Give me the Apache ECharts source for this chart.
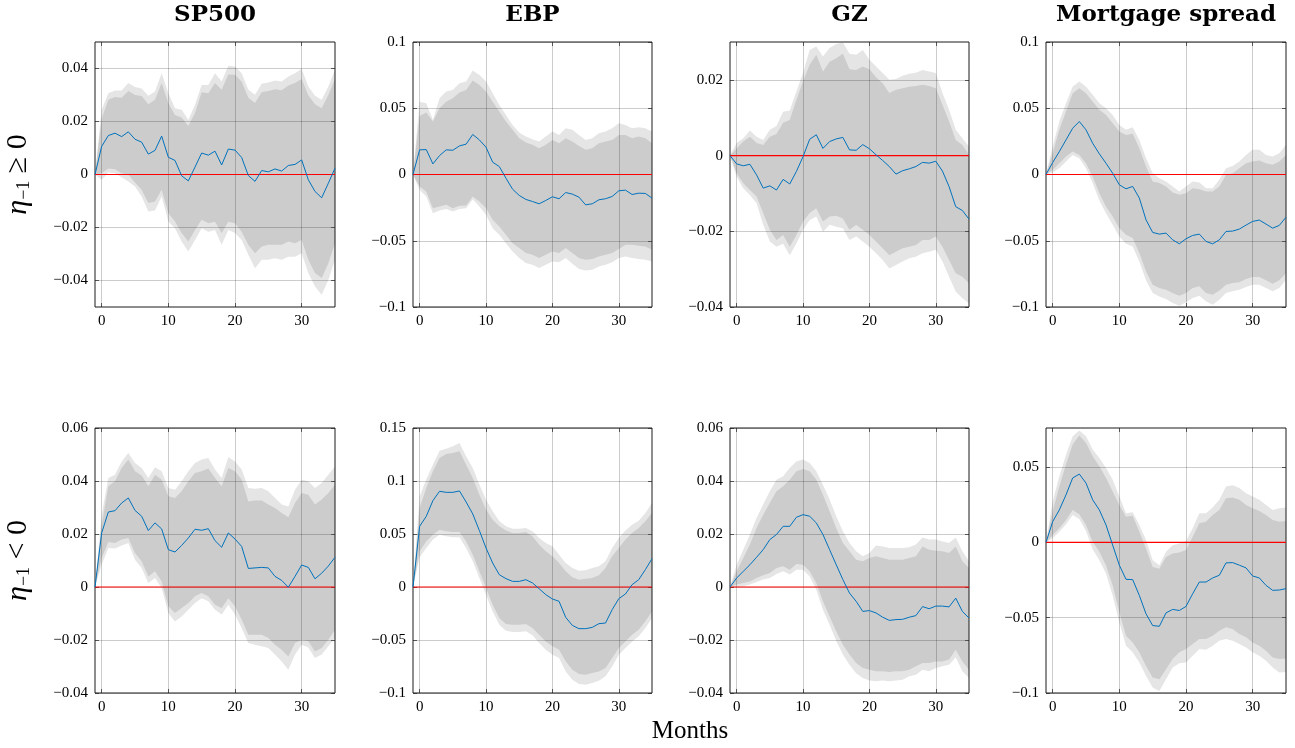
<!DOCTYPE html>
<html><head><meta charset="utf-8">
<script src="https://cdn.jsdelivr.net/npm/echarts@6/dist/echarts.min.js"></script>
<style>html,body{margin:0;padding:0;background:#fff}#c{width:1295px;height:748px}</style>
</head><body><div id="c"></div>
<script>
// ---- categories ----
const months = [-1,0,1,2,3,4,5,6,7,8,9,10,11,12,13,14,15,16,17,18,19,20,21,22,23,24,25,26,27,28,29,30,31,32,33,34,35];
const titles = ['SP500','EBP','GZ','Mortgage spread'];
const xLabel = 'Months';
const zeroLevel = 0;   // red reference line

// ---- y tick values ----
const ticksSpPos  = [-0.04,-0.02,0,0.02,0.04];
const ticksEbpPos = [-0.1,-0.05,0,0.05,0.1];
const ticksGzPos  = [-0.04,-0.02,0,0.02];
const ticksMtgPos = [-0.1,-0.05,0,0.05,0.1];
const ticksSpNeg  = [-0.04,-0.02,0,0.02,0.04,0.06];
const ticksEbpNeg = [-0.1,-0.05,0,0.05,0.1,0.15];
const ticksGzNeg  = [-0.04,-0.02,0,0.02,0.04,0.06];
const ticksMtgNeg = [-0.1,-0.05,0,0.05];

// ---- SP500, eta >= 0 ----
const spPosLine = [0,0.0106,0.0147,0.0156,0.0143,0.0161,0.0133,0.0122,0.0077,0.0091,0.0145,0.0065,0.0053,-0.0005,-0.0024,0.0028,0.0081,0.0073,0.0088,0.0036,0.0096,0.0092,0.0064,-0.0004,-0.0026,0.0015,0.0010,0.0021,0.0013,0.0034,0.0038,0.0055,-0.0020,-0.0064,-0.0088,-0.0033,0.0024];
const spPosHi90 = [0,0.0244,0.0307,0.0317,0.0317,0.0345,0.0330,0.0325,0.0297,0.0313,0.0382,0.0307,0.0250,0.0244,0.0206,0.0263,0.0338,0.0338,0.0382,0.0351,0.0410,0.0408,0.0382,0.0320,0.0301,0.0342,0.0347,0.0355,0.0351,0.0370,0.0382,0.0399,0.0332,0.0297,0.0282,0.0332,0.0395];
const spPosHi68 = [0,0.0210,0.0282,0.0292,0.0290,0.0315,0.0300,0.0296,0.0265,0.0282,0.0345,0.0270,0.0225,0.0215,0.0183,0.0232,0.0310,0.0307,0.0345,0.0320,0.0377,0.0376,0.0350,0.0290,0.0270,0.0310,0.0315,0.0322,0.0318,0.0336,0.0345,0.0360,0.0298,0.0265,0.0250,0.0300,0.0360];
const spPosLo68 = [0,0.0005,0.0023,0.0020,0.0005,0,-0.0030,-0.0058,-0.0108,-0.0102,-0.0058,-0.0146,-0.0177,-0.0221,-0.0253,-0.0209,-0.0171,-0.0184,-0.0178,-0.0221,-0.0178,-0.0184,-0.0216,-0.0265,-0.0297,-0.0272,-0.0265,-0.0265,-0.0265,-0.0253,-0.0259,-0.0247,-0.0322,-0.0372,-0.0391,-0.0335,-0.0259];
const spPosLo90 = [0,-0.0020,0.0008,0.0005,-0.0010,-0.0026,-0.0045,-0.0083,-0.0140,-0.0136,-0.0083,-0.0177,-0.0203,-0.0253,-0.0291,-0.0247,-0.0203,-0.0216,-0.0209,-0.0265,-0.0209,-0.0221,-0.0247,-0.0303,-0.0354,-0.0322,-0.0322,-0.0316,-0.0322,-0.0310,-0.0310,-0.0297,-0.0372,-0.0423,-0.0454,-0.0398,-0.0322];

// ---- EBP, eta >= 0 ----
const ebpPosLine = [0,0.0186,0.0188,0.0080,0.0143,0.0186,0.0183,0.0216,0.0229,0.0302,0.0261,0.0206,0.0093,0.0060,-0.0028,-0.0111,-0.0158,-0.0188,-0.0204,-0.0221,-0.0196,-0.0168,-0.0183,-0.0136,-0.0148,-0.0171,-0.0229,-0.0221,-0.0191,-0.0183,-0.0166,-0.0123,-0.0118,-0.0151,-0.0141,-0.0143,-0.0178];
const ebpPosHi90 = [0,0.0550,0.0538,0.0412,0.0575,0.0626,0.0638,0.0689,0.0701,0.0784,0.0751,0.0701,0.0613,0.0525,0.0450,0.0374,0.0317,0.0286,0.0266,0.0249,0.0286,0.0324,0.0299,0.0349,0.0337,0.0299,0.0261,0.0274,0.0312,0.0324,0.0349,0.0387,0.0374,0.0349,0.0357,0.0349,0.0324];
const ebpPosHi68 = [0,0.0442,0.0467,0.0400,0.0500,0.0550,0.0575,0.0618,0.0638,0.0709,0.0676,0.0626,0.0550,0.0475,0.0400,0.0337,0.0274,0.0241,0.0224,0.0199,0.0224,0.0261,0.0236,0.0274,0.0249,0.0216,0.0186,0.0199,0.0236,0.0249,0.0261,0.0299,0.0299,0.0274,0.0286,0.0274,0.0236];
const ebpPosLo68 = [0,-0.0090,-0.0128,-0.0254,-0.0241,-0.0229,-0.0254,-0.0236,-0.0234,-0.0166,-0.0204,-0.0254,-0.0342,-0.0392,-0.0455,-0.0518,-0.0555,-0.0593,-0.0606,-0.0631,-0.0606,-0.0581,-0.0593,-0.0555,-0.0593,-0.0631,-0.0643,-0.0638,-0.0618,-0.0606,-0.0593,-0.0563,-0.0530,-0.0530,-0.0538,-0.0543,-0.0568];
const ebpPosLo90 = [0,-0.0116,-0.0166,-0.0292,-0.0271,-0.0261,-0.0279,-0.0261,-0.0254,-0.0186,-0.0241,-0.0304,-0.0405,-0.0455,-0.0518,-0.0581,-0.0631,-0.0668,-0.0681,-0.0706,-0.0681,-0.0656,-0.0663,-0.0631,-0.0673,-0.0714,-0.0724,-0.0719,-0.0694,-0.0681,-0.0663,-0.0631,-0.0618,-0.0631,-0.0638,-0.0643,-0.0656];

// ---- GZ, eta >= 0 ----
const gzPosLine = [0,-0.0022,-0.0027,-0.0023,-0.0051,-0.0086,-0.0080,-0.0091,-0.0063,-0.0075,-0.0042,-0.0003,0.0043,0.0055,0.0019,0.0037,0.0044,0.0048,0.0015,0.0014,0.0029,0.0018,0.0002,-0.0013,-0.0029,-0.0049,-0.0040,-0.0035,-0.0029,-0.0018,-0.0020,-0.0015,-0.0041,-0.0082,-0.0135,-0.0145,-0.0168];
const gzPosHi90 = [0,0.0033,0.0046,0.0066,0.0050,0.0041,0.0068,0.0078,0.0116,0.0119,0.0169,0.0218,0.0279,0.0288,0.0262,0.0284,0.0295,0.0299,0.0269,0.0266,0.0279,0.0253,0.0235,0.0218,0.0200,0.0202,0.0211,0.0216,0.0219,0.0226,0.0222,0.0218,0.0165,0.0121,0.0068,0.0046,0.0024];
const gzPosHi68 = [0,0.0019,0.0037,0.0050,0.0033,0.0028,0.0050,0.0057,0.0087,0.0094,0.0147,0.0196,0.0240,0.0266,0.0222,0.0248,0.0257,0.0269,0.0228,0.0226,0.0235,0.0228,0.0207,0.0191,0.0165,0.0174,0.0178,0.0182,0.0184,0.0187,0.0184,0.0178,0.0134,0.0090,0.0041,0.0028,0.0002];
const gzPosLo68 = [0,-0.0047,-0.0073,-0.0091,-0.0108,-0.0152,-0.0196,-0.0223,-0.0210,-0.0241,-0.0210,-0.0174,-0.0152,-0.0139,-0.0174,-0.0161,-0.0159,-0.0166,-0.0196,-0.0183,-0.0196,-0.0210,-0.0227,-0.0245,-0.0263,-0.0254,-0.0245,-0.0241,-0.0236,-0.0223,-0.0223,-0.0214,-0.0241,-0.0276,-0.0311,-0.0320,-0.0337];
const gzPosLo90 = [0,-0.0056,-0.0086,-0.0104,-0.0126,-0.0183,-0.0227,-0.0241,-0.0233,-0.0263,-0.0232,-0.0196,-0.0170,-0.0161,-0.0201,-0.0183,-0.0188,-0.0192,-0.0223,-0.0214,-0.0227,-0.0241,-0.0258,-0.0276,-0.0298,-0.0289,-0.0280,-0.0271,-0.0267,-0.0258,-0.0254,-0.0249,-0.0280,-0.0320,-0.0359,-0.0377,-0.0390];

// ---- Mortgage spread, eta >= 0 ----
const mtgPosLine = [0,0.0090,0.0173,0.0261,0.0349,0.0400,0.0337,0.0236,0.0156,0.0085,0.0010,-0.0078,-0.0108,-0.0090,-0.0178,-0.0342,-0.0437,-0.0450,-0.0442,-0.0493,-0.0523,-0.0485,-0.0460,-0.0450,-0.0505,-0.0523,-0.0493,-0.0430,-0.0427,-0.0412,-0.0382,-0.0354,-0.0344,-0.0374,-0.0405,-0.0384,-0.0322];
const mtgPosHi90 = [0,0.0211,0.0400,0.0538,0.0663,0.0701,0.0663,0.0601,0.0538,0.0500,0.0450,0.0374,0.0337,0.0357,0.0261,0.0123,0.0010,-0.0028,-0.0053,-0.0090,-0.0128,-0.0090,-0.0053,-0.0060,-0.0103,-0.0103,-0.0040,0.0048,0.0065,0.0098,0.0148,0.0186,0.0186,0.0148,0.0136,0.0161,0.0224];
const mtgPosHi68 = [0,0.0161,0.0337,0.0475,0.0613,0.0651,0.0613,0.0550,0.0488,0.0450,0.0387,0.0324,0.0299,0.0307,0.0199,0.0060,-0.0053,-0.0065,-0.0090,-0.0136,-0.0153,-0.0141,-0.0103,-0.0111,-0.0128,-0.0128,-0.0090,-0.0003,0.0010,0.0048,0.0085,0.0098,0.0106,0.0085,0.0073,0.0098,0.0148];
const mtgPosLo68 = [0,0.0035,0.0085,0.0136,0.0173,0.0148,0.0085,-0.0015,-0.0141,-0.0241,-0.0317,-0.0405,-0.0455,-0.0480,-0.0593,-0.0731,-0.0832,-0.0857,-0.0869,-0.0895,-0.0915,-0.0895,-0.0857,-0.0844,-0.0895,-0.0907,-0.0875,-0.0832,-0.0819,-0.0814,-0.0789,-0.0774,-0.0774,-0.0799,-0.0824,-0.0799,-0.0744];
const mtgPosLo90 = [0,0.0015,0.0048,0.0098,0.0148,0.0123,0.0048,-0.0065,-0.0196,-0.0292,-0.0379,-0.0467,-0.0523,-0.0543,-0.0656,-0.0799,-0.0895,-0.0920,-0.0940,-0.0970,-0.0990,-0.0965,-0.0932,-0.0915,-0.0957,-0.0983,-0.0945,-0.0895,-0.0882,-0.0869,-0.0849,-0.0832,-0.0832,-0.0857,-0.0882,-0.0857,-0.0794];

// ---- SP500, eta < 0 ----
const spNegLine = [0,0.0204,0.0283,0.0288,0.0317,0.0336,0.0289,0.0267,0.0213,0.0242,0.0219,0.0141,0.0132,0.0157,0.0185,0.0218,0.0214,0.0220,0.0175,0.0150,0.0204,0.0181,0.0153,0.0070,0.0072,0.0074,0.0072,0.0040,0.0025,-0.0001,0.0040,0.0083,0.0074,0.0031,0.0052,0.0079,0.0112];
const spNegHi90 = [0,0.0273,0.0411,0.0424,0.0474,0.0506,0.0468,0.0449,0.0411,0.0452,0.0437,0.0374,0.0367,0.0399,0.0437,0.0468,0.0481,0.0487,0.0443,0.0411,0.0491,0.0474,0.0443,0.0374,0.0371,0.0374,0.0361,0.0336,0.0311,0.0304,0.0367,0.0405,0.0399,0.0374,0.0392,0.0424,0.0455];
const spNegHi68 = [0,0.0235,0.0380,0.0399,0.0449,0.0481,0.0437,0.0421,0.0380,0.0424,0.0405,0.0342,0.0336,0.0361,0.0399,0.0430,0.0437,0.0447,0.0411,0.0380,0.0449,0.0437,0.0405,0.0323,0.0326,0.0326,0.0311,0.0298,0.0279,0.0263,0.0317,0.0355,0.0348,0.0311,0.0330,0.0355,0.0386];
const spNegLo68 = [0,0.0109,0.0170,0.0166,0.0179,0.0185,0.0128,0.0097,0.0040,0.0059,0.0021,-0.0073,-0.0098,-0.0079,-0.0060,-0.0035,-0.0023,-0.0035,-0.0067,-0.0079,-0.0042,-0.0073,-0.0123,-0.0180,-0.0180,-0.0180,-0.0192,-0.0218,-0.0237,-0.0262,-0.0211,-0.0199,-0.0205,-0.0243,-0.0230,-0.0199,-0.0161];
const spNegLo90 = [0,0.0084,0.0147,0.0145,0.0157,0.0166,0.0103,0.0072,0.0015,0.0034,-0.0004,-0.0098,-0.0130,-0.0111,-0.0086,-0.0060,-0.0042,-0.0054,-0.0086,-0.0104,-0.0067,-0.0104,-0.0155,-0.0211,-0.0218,-0.0224,-0.0230,-0.0255,-0.0281,-0.0312,-0.0255,-0.0218,-0.0228,-0.0268,-0.0255,-0.0224,-0.0192];

// ---- EBP, eta < 0 ----
const ebpNegLine = [0,0.0572,0.0667,0.0815,0.0903,0.0893,0.0893,0.0906,0.0802,0.0689,0.0532,0.0368,0.0226,0.0116,0.0079,0.0053,0.0053,0.0069,0.0038,-0.0016,-0.0072,-0.0113,-0.0135,-0.0286,-0.0362,-0.0393,-0.0393,-0.0381,-0.0346,-0.0340,-0.0214,-0.0110,-0.0066,0.0022,0.0069,0.0164,0.0267];
const ebpNegHi90 = [0,0.0855,0.1013,0.1154,0.1286,0.1305,0.1327,0.1359,0.1233,0.1123,0.0966,0.0824,0.0714,0.0620,0.0572,0.0550,0.0550,0.0557,0.0525,0.0462,0.0415,0.0384,0.0305,0.0226,0.0179,0.0154,0.0157,0.0179,0.0195,0.0242,0.0368,0.0462,0.0532,0.0588,0.0626,0.0698,0.0793];
const ebpNegHi68 = [0,0.0745,0.0934,0.1091,0.1217,0.1255,0.1264,0.1280,0.1154,0.1028,0.0871,0.0730,0.0635,0.0572,0.0532,0.0509,0.0509,0.0519,0.0478,0.0399,0.0337,0.0289,0.0226,0.0148,0.0091,0.0069,0.0079,0.0085,0.0110,0.0179,0.0289,0.0368,0.0447,0.0509,0.0557,0.0620,0.0698];
const ebpNegLo68 = [0,0.0337,0.0431,0.0494,0.0541,0.0525,0.0519,0.0519,0.0431,0.0305,0.0148,-0.0009,-0.0167,-0.0292,-0.0349,-0.0355,-0.0355,-0.0349,-0.0387,-0.0450,-0.0513,-0.0560,-0.0591,-0.0701,-0.0780,-0.0821,-0.0827,-0.0811,-0.0796,-0.0764,-0.0670,-0.0576,-0.0513,-0.0450,-0.0403,-0.0324,-0.0230];
const ebpNegLo90 = [0,0.0280,0.0368,0.0447,0.0494,0.0478,0.0469,0.0469,0.0368,0.0242,0.0085,-0.0072,-0.0230,-0.0355,-0.0412,-0.0425,-0.0425,-0.0418,-0.0456,-0.0528,-0.0591,-0.0638,-0.0670,-0.0796,-0.0874,-0.0915,-0.0921,-0.0906,-0.0884,-0.0843,-0.0749,-0.0638,-0.0576,-0.0513,-0.0465,-0.0387,-0.0292];

// ---- GZ, eta < 0 ----
const gzNegLine = [0,0.0034,0.0059,0.0084,0.0112,0.0141,0.0179,0.0198,0.0229,0.0229,0.0263,0.0273,0.0267,0.0242,0.0198,0.0141,0.0084,0.0028,-0.0023,-0.0054,-0.0092,-0.0089,-0.0098,-0.0114,-0.0126,-0.0123,-0.0122,-0.0114,-0.0108,-0.0074,-0.0082,-0.0072,-0.0072,-0.0075,-0.0042,-0.0092,-0.0117];
const gzNegHi90 = [0,0.0084,0.0141,0.0198,0.0260,0.0311,0.0361,0.0405,0.0418,0.0449,0.0474,0.0481,0.0468,0.0437,0.0386,0.0330,0.0267,0.0210,0.0166,0.0135,0.0116,0.0128,0.0157,0.0153,0.0147,0.0147,0.0147,0.0150,0.0160,0.0187,0.0179,0.0179,0.0172,0.0166,0.0187,0.0135,0.0097];
const gzNegHi68 = [0,0.0059,0.0109,0.0160,0.0223,0.0273,0.0317,0.0361,0.0380,0.0405,0.0437,0.0445,0.0437,0.0405,0.0348,0.0286,0.0223,0.0166,0.0135,0.0103,0.0097,0.0109,0.0116,0.0109,0.0103,0.0103,0.0103,0.0109,0.0116,0.0153,0.0141,0.0137,0.0135,0.0128,0.0153,0.0097,0.0072];
const gzNegLo68 = [0,0.0009,0.0015,0.0021,0.0034,0.0044,0.0053,0.0072,0.0078,0.0065,0.0087,0.0084,0.0059,0.0015,-0.0054,-0.0111,-0.0167,-0.0218,-0.0255,-0.0287,-0.0306,-0.0312,-0.0318,-0.0318,-0.0321,-0.0318,-0.0318,-0.0312,-0.0299,-0.0287,-0.0287,-0.0281,-0.0281,-0.0274,-0.0237,-0.0281,-0.0312];
const gzNegLo90 = [0,0,0.0003,0.0009,0.0019,0.0028,0.0034,0.0049,0.0059,0.0047,0.0065,0.0065,0.0040,-0.0010,-0.0086,-0.0142,-0.0203,-0.0255,-0.0293,-0.0325,-0.0343,-0.0353,-0.0356,-0.0353,-0.0356,-0.0353,-0.0350,-0.0337,-0.0331,-0.0312,-0.0318,-0.0306,-0.0299,-0.0293,-0.0265,-0.0318,-0.0343];

// ---- Mortgage spread, eta < 0 ----
const mtgNegLine = [0,0.0138,0.0216,0.0316,0.0428,0.0454,0.0394,0.0283,0.0216,0.0116,-0.0018,-0.0151,-0.0245,-0.0247,-0.0352,-0.0474,-0.0552,-0.0557,-0.0468,-0.0445,-0.0452,-0.0425,-0.0341,-0.0263,-0.0263,-0.0236,-0.0218,-0.0136,-0.0134,-0.0151,-0.0169,-0.0223,-0.0236,-0.0285,-0.0318,-0.0316,-0.0307];
const mtgNegHi90 = [0,0.0272,0.0439,0.0583,0.0706,0.0744,0.0706,0.0617,0.0561,0.0494,0.0416,0.0305,0.0194,0.0200,0.0116,0.0016,-0.0118,-0.0151,-0.0062,-0.0018,-0.0007,0.0009,0.0094,0.0194,0.0194,0.0232,0.0283,0.0372,0.0379,0.0361,0.0327,0.0305,0.0283,0.0249,0.0216,0.0227,0.0232];
const mtgNegHi68 = [0,0.0205,0.0372,0.0517,0.0650,0.0710,0.0661,0.0572,0.0506,0.0428,0.0339,0.0249,0.0171,0.0178,0.0071,-0.0040,-0.0163,-0.0174,-0.0096,-0.0073,-0.0067,-0.0051,0.0038,0.0127,0.0138,0.0183,0.0216,0.0294,0.0298,0.0283,0.0249,0.0227,0.0209,0.0183,0.0149,0.0138,0.0143];
const mtgNegLo68 = [0,0.0049,0.0094,0.0149,0.0216,0.0187,0.0116,0.0004,-0.0062,-0.0151,-0.0285,-0.0463,-0.0619,-0.0664,-0.0730,-0.0820,-0.0897,-0.0909,-0.0842,-0.0775,-0.0730,-0.0708,-0.0675,-0.0641,-0.0641,-0.0619,-0.0586,-0.0563,-0.0575,-0.0608,-0.0630,-0.0664,-0.0686,-0.0719,-0.0764,-0.0775,-0.0771];
const mtgNegLo90 = [0,0.0027,0.0071,0.0120,0.0183,0.0156,0.0076,-0.0045,-0.0118,-0.0207,-0.0352,-0.0530,-0.0686,-0.0730,-0.0797,-0.0886,-0.0964,-0.0987,-0.0909,-0.0831,-0.0802,-0.0797,-0.0753,-0.0708,-0.0713,-0.0686,-0.0653,-0.0641,-0.0653,-0.0675,-0.0697,-0.0730,-0.0753,-0.0786,-0.0831,-0.0864,-0.0860];

// ---- panels (built from the arrays above) ----
const panels = [
  {line:spPosLine,  hi90:spPosHi90,  hi68:spPosHi68,  lo68:spPosLo68,  lo90:spPosLo90,  ymin:-0.05, ymax:0.05,  ticks:ticksSpPos},
  {line:ebpPosLine, hi90:ebpPosHi90, hi68:ebpPosHi68, lo68:ebpPosLo68, lo90:ebpPosLo90, ymin:-0.1,  ymax:0.1,   ticks:ticksEbpPos},
  {line:gzPosLine,  hi90:gzPosHi90,  hi68:gzPosHi68,  lo68:gzPosLo68,  lo90:gzPosLo90,  ymin:-0.04, ymax:0.03,  ticks:ticksGzPos},
  {line:mtgPosLine, hi90:mtgPosHi90, hi68:mtgPosHi68, lo68:mtgPosLo68, lo90:mtgPosLo90, ymin:-0.1,  ymax:0.1,   ticks:ticksMtgPos},
  {line:spNegLine,  hi90:spNegHi90,  hi68:spNegHi68,  lo68:spNegLo68,  lo90:spNegLo90,  ymin:-0.04, ymax:0.06,  ticks:ticksSpNeg},
  {line:ebpNegLine, hi90:ebpNegHi90, hi68:ebpNegHi68, lo68:ebpNegLo68, lo90:ebpNegLo90, ymin:-0.1,  ymax:0.15,  ticks:ticksEbpNeg},
  {line:gzNegLine,  hi90:gzNegHi90,  hi68:gzNegHi68,  lo68:gzNegLo68,  lo90:gzNegLo90,  ymin:-0.04, ymax:0.06,  ticks:ticksGzNeg},
  {line:mtgNegLine, hi90:mtgNegHi90, hi68:mtgNegHi68, lo68:mtgNegLo68, lo90:mtgNegLo90, ymin:-0.1,  ymax:0.076, ticks:ticksMtgNeg}
];

const colLeft = [95, 413, 730, 1046];
const colWidth = [240, 239, 239, 240];
const rowTop = [42, 428];
const panelH = 265;
const serif = '"Liberation Serif", "DejaVu Serif", serif';
const gridColor = 'rgba(0,0,0,0.2)';
const tickColor = '#555';

function fmt(v) {
  if (Math.abs(v) < 1e-9) return '0';
  const s = String(parseFloat(Math.abs(v).toFixed(4)));
  return (v < 0 ? '\u2212' : '') + s;
}
function isTick(idx, val) { return Number(val) % 10 === 0; }
function diff(a, b) { return a.map((v, i) => +(v - b[i]).toFixed(6)); }
function hiddenLine() { return {show: false, onZero: false, lineStyle: {color: 'rgba(0,0,0,0)', opacity: 0}}; }

const grids = [], xAxes = [], yAxes = [], series = [];
panels.forEach((p, k) => {
  const col = k % 4, row = Math.floor(k / 4);
  grids.push({left: colLeft[col], top: rowTop[row], width: colWidth[col], height: panelH,
    show: true, borderColor: '#1a1a1a', borderWidth: 1, backgroundColor: 'transparent',
    z: 5, containLabel: false, outerBoundsMode: 'none'});
  xAxes.push({type: 'category', gridIndex: k, position: 'bottom', data: months.map(String), boundaryGap: false, z: 2,
    axisLine: hiddenLine(),
    axisTick: {show: true, inside: true, length: 4, interval: isTick, lineStyle: {color: tickColor}},
    axisLabel: {interval: isTick, margin: 7, fontFamily: serif, fontSize: 15, color: '#000'},
    splitLine: {show: true, interval: isTick, lineStyle: {color: gridColor, width: 1}}});
  xAxes.push({type: 'category', gridIndex: k, position: 'top', data: months.map(String), boundaryGap: false, z: 2,
    axisLine: hiddenLine(),
    axisTick: {show: true, inside: true, length: 4, interval: isTick, lineStyle: {color: tickColor}},
    axisLabel: {show: false}, splitLine: {show: false}});
  const ya = {type: 'value', gridIndex: k, position: 'left', min: p.ymin, max: p.ymax, z: 2,
    axisLine: hiddenLine(),
    axisTick: {show: true, inside: true, length: 4, customValues: p.ticks, lineStyle: {color: tickColor}},
    axisLabel: {customValues: p.ticks, formatter: fmt, margin: 7, fontFamily: serif, fontSize: 15, color: '#000'},
    splitLine: {show: true, lineStyle: {color: gridColor, width: 1}}};
  if (col === 0) {
    ya.name = row === 0 ? '{a|\u03b7}{b|\u22121}{c| \u2265 0}' : '{a|\u03b7}{b|\u22121}{c| < 0}';
    ya.nameLocation = 'middle';
    ya.nameRotate = 90;
    ya.nameGap = 62;
    ya.nameTextStyle = {color: '#000', rich: {
      a: {fontFamily: serif, fontSize: 30, fontStyle: 'italic', color: '#000'},
      b: {fontFamily: serif, fontSize: 18, color: '#000', verticalAlign: 'bottom', padding: [12, 0, 0, 0]},
      c: {fontFamily: serif, fontSize: 30, color: '#000'}
    }};
  }
  yAxes.push(ya);
  yAxes.push({type: 'value', gridIndex: k, position: 'right', min: p.ymin, max: p.ymax, z: 2,
    axisLine: hiddenLine(),
    axisTick: {show: true, inside: true, length: 4, customValues: p.ticks, lineStyle: {color: tickColor}},
    axisLabel: {show: false}, splitLine: {show: false}});
  const xi = 2 * k, yi = 2 * k;
  const common = {type: 'line', xAxisIndex: xi, yAxisIndex: yi, symbol: 'none', silent: true,
    animation: false, emphasis: {disabled: true}};
  series.push(Object.assign({}, common, {data: p.lo90, stack: 'o' + k, stackStrategy: 'all', z: 1,
    lineStyle: {width: 0, opacity: 0}}));
  series.push(Object.assign({}, common, {data: diff(p.hi90, p.lo90), stack: 'o' + k, stackStrategy: 'all', z: 1,
    lineStyle: {width: 0, opacity: 0}, areaStyle: {color: '#e5e5e5', opacity: 1}}));
  series.push(Object.assign({}, common, {data: p.lo68, stack: 'i' + k, stackStrategy: 'all', z: 1,
    lineStyle: {width: 0, opacity: 0}}));
  series.push(Object.assign({}, common, {data: diff(p.hi68, p.lo68), stack: 'i' + k, stackStrategy: 'all', z: 1,
    lineStyle: {width: 0, opacity: 0}, areaStyle: {color: '#cccccc', opacity: 1}}));
  // red zero reference line, spanning the whole axis
  series.push(Object.assign({}, common, {data: months.map(() => zeroLevel), z: 10,
    lineStyle: {color: '#ff0000', width: 1.2, opacity: 1}}));
  series.push(Object.assign({}, common, {data: p.line, z: 11,
    lineStyle: {color: '#0072bd', width: 1}}));
});

const graphic = titles.map((t, c) => ({type: 'text', x: colLeft[c] + colWidth[c] / 2, y: 15,
  style: {text: t, font: 'bold 23px "DejaVu Serif", serif', fill: '#000', textAlign: 'center', textVerticalAlign: 'middle'}}));
graphic.push({type: 'text', x: 690, y: 731,
  style: {text: xLabel, font: '25px "Liberation Serif", serif', fill: '#000', textAlign: 'center', textVerticalAlign: 'middle'}});

const chart = echarts.init(document.getElementById('c'));
chart.setOption({animation: false, backgroundColor: '#fff', grid: grids, xAxis: xAxes, yAxis: yAxes, series: series, graphic: graphic});
</script></body></html>
